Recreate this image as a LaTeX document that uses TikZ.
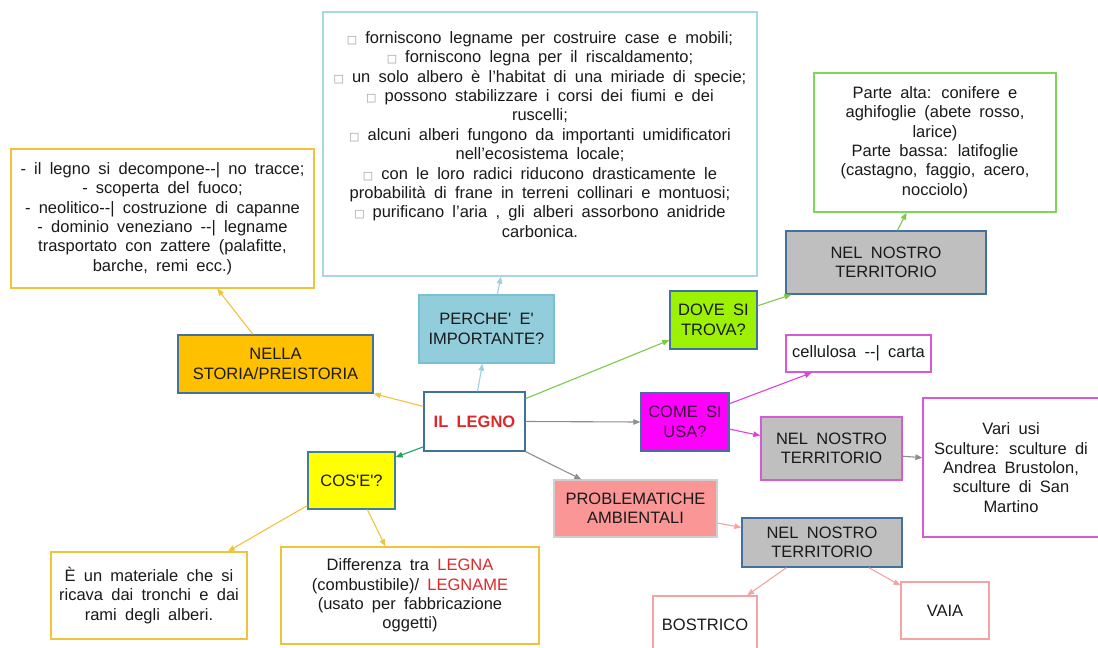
\documentclass[tikz,border=0pt]{standalone}
\usepackage{fontspec}
\usetikzlibrary{arrows.meta,calc}
\newfontfamily\af{Liberation Sans}[WordSpace=1.8]
\newfontfamily\dejavu{DejaVu Sans}

\definecolor{txt}{HTML}{1A1A1A}
\definecolor{blueb}{HTML}{41719C}
\definecolor{orangef}{HTML}{FFC000}
\definecolor{tealf}{HTML}{92CDDC}
\definecolor{tealb}{HTML}{79C0D6}
\definecolor{topb}{HTML}{A8D6E2}
\definecolor{limef}{HTML}{9CF202}
\definecolor{grayf}{HTML}{BFBFBF}
\definecolor{greenb}{HTML}{7FD45A}
\definecolor{lgreen}{HTML}{7DC94A}
\definecolor{dgreen}{HTML}{1FA35A}
\definecolor{magf}{HTML}{FF00FF}
\definecolor{magl}{HTML}{E040E0}
\definecolor{magb}{HTML}{D65AD6}
\definecolor{magt}{HTML}{3C0F3C}
\definecolor{salmonf}{HTML}{FA9696}
\definecolor{salmonb}{HTML}{CFCFCF}
\definecolor{pinkl}{HTML}{F4A3A3}
\definecolor{yellowf}{HTML}{FFFF00}
\definecolor{coseb}{HTML}{3E7FA0}
\definecolor{gold}{HTML}{F0C33A}
\definecolor{grayl}{HTML}{8E8E8E}
\definecolor{lblue}{HTML}{9CCFE0}
\definecolor{redt}{HTML}{E02828}
\definecolor{bulc}{HTML}{9A9A9A}

\newcommand\bul{{\color{bulc}\dejavu\fontsize{11}{11}\selectfont □}\hspace{8pt}}
\newcommand\q{\textquotesingle}

\tikzset{
  box/.style={draw, rectangle, align=center, inner sep=0pt, line width=1.3pt,
    text=txt, font=\af\fontsize{16.5}{19.4}\selectfont},
  con/.style={line width=1.1pt, -{Triangle[length=7pt,width=5.5pt]}},
}

\begin{document}
\begin{tikzpicture}[x=1pt,y=-1pt]
\useasboundingbox (0,0) rectangle (1098,648);

% central topic
\node[box, draw=blueb, fill=white, minimum width=101pt, minimum height=59pt,
  text=redt, font=\af\bfseries\fontsize{16.5}{19.4}\selectfont] (legno) at (474.5,421.5) {IL LEGNO};

% history branch
\node[box, draw=blueb, fill=orangef, minimum width=195pt, minimum height=58pt] (nella) at (275.5,364) {NELLA\\STORIA/PREISTORIA};
\node[box, draw=gold, fill=white, minimum width=303pt, minimum height=139pt] (hist) at (162.5,218.5)
  {- il legno si decompone--| no tracce;\\
   - scoperta del fuoco;\\
   - neolitico--| costruzione di capanne\\
   - dominio veneziano --| legname\\
   trasportato con zattere (palafitte,\\
   barche, remi ecc.)};

% importance branch
\node[box, draw=tealb, fill=tealf, minimum width=135pt, minimum height=68pt] (perche) at (486.5,329) {PERCHE\q{} E\q\\IMPORTANTE?};
\node[box, draw=topb, fill=white, minimum width=434pt, minimum height=264pt] (top) at (540,144)
  {\bul forniscono legname per costruire case e mobili;\\
   \bul forniscono legna per il riscaldamento;\\
   \bul un solo albero è l’habitat di una miriade di specie;\\
   \bul possono stabilizzare i corsi dei fiumi e dei\\
   ruscelli;\\
   \bul alcuni alberi fungono da importanti umidificatori\\
   nell’ecosistema locale;\\
   \bul con le loro radici riducono drasticamente le\\
   probabilità di frane in terreni collinari e montuosi;\\
   \bul purificano l’aria , gli alberi assorbono anidride\\
   carbonica.\\
   \mbox{}};

% where branch
\node[box, draw=blueb, fill=limef, minimum width=87pt, minimum height=58pt] (dove) at (713.5,320) {DOVE SI\\TROVA?};
\node[box, draw=blueb, fill=grayf, minimum width=200pt, minimum height=63pt] (terrA) at (886,262.5) {NEL NOSTRO\\TERRITORIO};
\node[box, draw=greenb, fill=white, minimum width=242pt, minimum height=139pt] (alta) at (935,142.5)
  {Parte alta: conifere e\\
   aghifoglie (abete rosso,\\
   larice)\\
   Parte bassa: latifoglie\\
   (castagno, faggio, acero,\\
   nocciolo)};

% use branch
\node[box, draw=blueb, fill=magf, minimum width=88pt, minimum height=58pt, text=magt] (come) at (685,422) {COME SI\\USA?};
\node[box, draw=magb, fill=white, minimum width=145pt, minimum height=37pt] (cell) at (858.5,353.5) {cellulosa --| carta};
\node[box, draw=magb, fill=grayf, minimum width=141pt, minimum height=63pt] (terrB) at (831.5,448.5) {NEL NOSTRO\\TERRITORIO};
\node[box, draw=magb, fill=white, minimum width=176pt, minimum height=139pt] (vari) at (1011,467.5)
  {Vari usi\\
   Sculture: sculture di\\
   Andrea Brustolon,\\
   sculture di San\\
   Martino};

% environment branch
\node[box, draw=salmonb, fill=salmonf, minimum width=163pt, minimum height=57pt] (prob) at (635.5,508.5) {PROBLEMATICHE\\AMBIENTALI};
\node[box, draw=blueb, fill=grayf, minimum width=160pt, minimum height=49pt] (terrC) at (822,542.5) {NEL NOSTRO\\TERRITORIO};
\node[box, draw=pinkl, fill=white, minimum width=104pt, minimum height=58pt] (bost) at (705,625) {BOSTRICO};
\node[box, draw=pinkl, fill=white, minimum width=88pt, minimum height=57pt] (vaia) at (945,610.5) {VAIA};

% definition branch
\node[box, draw=coseb, fill=yellowf, minimum width=87pt, minimum height=57pt] (cose) at (351.5,480.5) {COS\q E\q?};
\node[box, draw=gold, fill=white, minimum width=196pt, minimum height=87pt] (mat) at (149,595.5)
  {È un materiale che si\\
   ricava dai tronchi e dai\\
   rami degli alberi.};
\node[box, draw=gold, fill=white, minimum width=258pt, minimum height=97pt] (diff) at (410,595.5)
  {Differenza tra {\color{redt}LEGNA}\\
   (combustibile)/ {\color{redt}LEGNAME}\\
   (usato per fabbricazione\\
   oggetti)};

% connectors
\draw[con,gold] ($(legno.north west)!0.25!(legno.south west)$) -- (nella.south east);
\draw[con,gold] ($(nella.north west)!0.385!(nella.north east)$) -- ($(hist.south west)!0.68!(hist.south east)$);
\draw[con,lblue] ($(legno.north west)!0.53!(legno.north east)$) -- ($(perche.south west)!0.47!(perche.south east)$);
\draw[con,lblue] ($(perche.north west)!0.58!(perche.north east)$) -- ($(top.south west)!0.41!(top.south east)$);
\draw[con,lgreen] ($(legno.north east)!0.12!(legno.south east)$) -- ($(dove.north west)!0.84!(dove.south west)$);
\draw[con,lgreen] ($(dove.north east)!0.26!(dove.south east)$) -- ($(terrA.south west)!0.03!(terrA.south east)$);
\draw[con,lgreen] ($(terrA.north west)!0.557!(terrA.north east)$) -- ($(alta.south west)!0.383!(alta.south east)$);
\draw[con,grayl] (legno.east) -- (come.west);
\draw[con,magl] ($(come.north east)!0.19!(come.south east)$) -- ($(cell.south west)!0.18!(cell.south east)$);
\draw[con,magl] ($(come.north east)!0.62!(come.south east)$) -- ($(terrB.north west)!0.30!(terrB.south west)$);
\draw[con,grayl] ($(terrB.north east)!0.62!(terrB.south east)$) -- ($(vari.north west)!0.43!(vari.south west)$);
\draw[con,grayl] (legno.south east) -- ($(prob.north west)!0.17!(prob.north east)$);
\draw[con,pinkl] ($(prob.north east)!0.75!(prob.south east)$) -- ($(terrC.north west)!0.2!(terrC.south west)$);
\draw[con,pinkl] ($(terrC.south west)!0.28!(terrC.south east)$) -- ($(bost.north west)!0.9!(bost.north east)$);
\draw[con,pinkl] ($(terrC.south west)!0.79!(terrC.south east)$) -- ($(vaia.north west)!0.07!(vaia.south west)$);
\draw[con,dgreen] ($(legno.north west)!0.92!(legno.south west)$) -- ($(cose.north east)!0.1!(cose.south east)$);
\draw[con,gold] ($(cose.north west)!0.93!(cose.south west)$) -- ($(mat.north west)!0.9!(mat.north east)$);
\draw[con,gold] ($(cose.south west)!0.68!(cose.south east)$) -- ($(diff.north west)!0.405!(diff.north east)$);
\end{tikzpicture}
\end{document}
